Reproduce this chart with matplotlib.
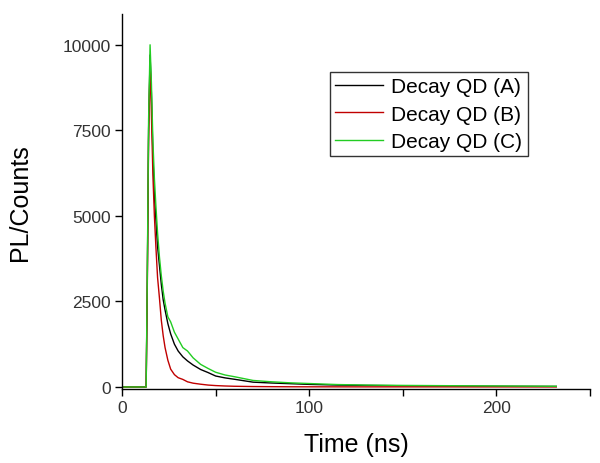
import matplotlib
matplotlib.use("Agg")
import matplotlib.pyplot as plt
from matplotlib.ticker import MultipleLocator

plt.rcParams['font.family'] = ['Liberation Sans', 'DejaVu Sans']

# time axis (ns) and PL counts
time_ns = [0, 12.9, 13.5, 14.2, 15.0, 15.7, 16.5, 17.3, 18.1, 19.0, 20.0, 21.0,
           22.0, 23.0, 24.5, 26, 28, 30, 32.5, 35, 38, 42, 46, 50, 55, 60, 70,
           80, 90, 100, 115, 130, 150, 170, 190, 210, 232]

decay_a = [0, 0, 3000, 7500, 9700, 8600, 6800, 5600, 4900, 4100, 3550, 3000,
           2550, 2250, 1850, 1550, 1250, 1050, 880, 760, 640, 510, 420, 320,
           265, 225, 140, 115, 95, 75, 55, 45, 35, 28, 22, 18, 15]
decay_b = [0, 0, 2800, 7200, 9500, 8000, 6200, 5000, 4100, 3200, 2600, 1950,
           1500, 1150, 780, 520, 360, 270, 220, 150, 110, 80, 55, 40, 28, 20,
           12, 8, 5, 4, 3, 2, 2, 2, 1, 1, 1]
decay_c = [0, 0, 3200, 7800, 10000, 8900, 7200, 6100, 5300, 4500, 3800, 3250,
           2800, 2450, 2050, 1900, 1600, 1400, 1150, 1050, 850, 660, 540, 430,
           350, 300, 190, 150, 120, 100, 70, 55, 45, 38, 32, 26, 20]

labels = ['Decay QD (A)', 'Decay QD (B)', 'Decay QD (C)']
colors = ['#000000', '#c00000', '#22cc22']

fig = plt.figure(figsize=(6, 4.64), dpi=100)
ax = fig.add_axes([122/600, 1-390/464, (590-122)/600, (390-15)/464])

for ys, lab, col in zip([decay_a, decay_b, decay_c], labels, colors):
    ax.plot(time_ns, ys, color=col, lw=1.0, label=lab)

ax.set_xlim(0, 250)
ax.set_ylim(-60, 10900)
ax.xaxis.set_major_locator(MultipleLocator(100))
ax.xaxis.set_minor_locator(MultipleLocator(50))
ax.set_yticks([0, 2500, 5000, 7500, 10000])

for s in ['top', 'right']:
    ax.spines[s].set_visible(False)
ax.spines['left'].set_linewidth(1.0)
ax.spines['bottom'].set_linewidth(1.0)

ax.tick_params(axis='both', which='both', direction='out', length=5, width=1,
               labelsize=12.5, labelcolor='#333333', pad=3)

ax.set_xlabel('Time (ns)', fontsize=18, labelpad=12)
ax.set_ylabel('PL/Counts', fontsize=18, labelpad=22)

leg = ax.legend(loc='upper left', bbox_to_anchor=(330/600, 1-73/464),
                bbox_transform=fig.transFigure, borderaxespad=0,
                fontsize=15, handlelength=2.3, handletextpad=0.4,
                labelspacing=0.4, borderpad=0.25, fancybox=False,
                edgecolor='#333333', framealpha=1)
leg.get_frame().set_linewidth(1.0)

fig.savefig('out.png', dpi=100)
